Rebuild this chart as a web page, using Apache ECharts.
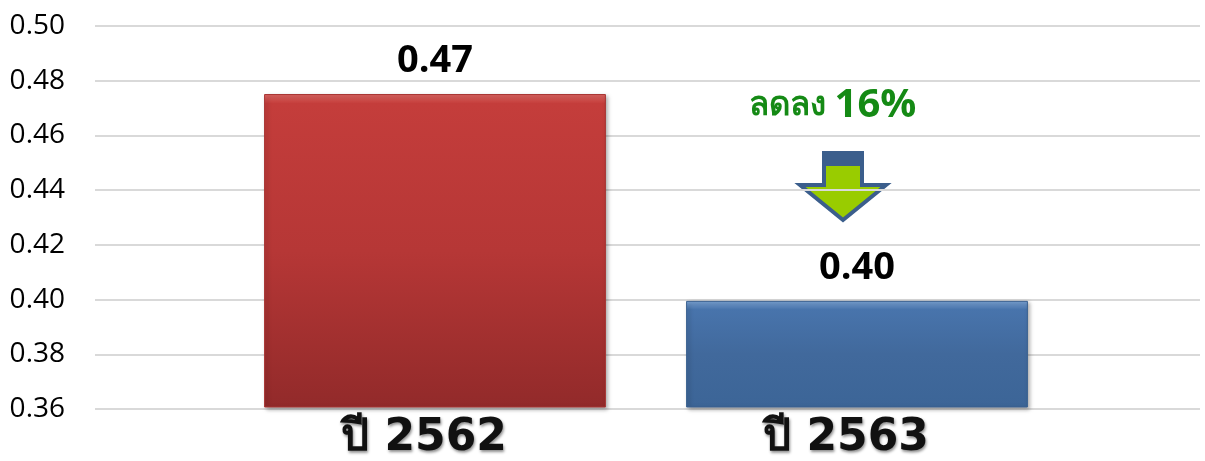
<!DOCTYPE html>
<html><head><meta charset="utf-8">
<script src="https://cdn.jsdelivr.net/npm/echarts@6/dist/echarts.min.js"></script>
<style>html,body{margin:0;padding:0;background:#fff}#c{width:1205px;height:461px}</style>
</head><body><div id="c"></div>
<script>
var categories = ['ปี 2562', 'ปี 2563'];
var values = [0.475, 0.399];
var valueLabels = ['0.47', '0.40'];
var yTicks = [0.36, 0.38, 0.40, 0.42, 0.44, 0.46, 0.48, 0.50];
var changeText = 'ลดลง';
var changePct = '16%';

var chart = echarts.init(document.getElementById('c'));
var barColors = [
  new echarts.graphic.LinearGradient(0,0,0,1,[{offset:0,color:'#e06864'},{offset:0.03,color:'#c43d3b'},{offset:0.5,color:'#b63736'},{offset:1,color:'#922a2a'}]),
  new echarts.graphic.LinearGradient(0,0,0,1,[{offset:0,color:'#7da6d8'},{offset:0.08,color:'#4874ac'},{offset:0.5,color:'#41699c'},{offset:1,color:'#3c6597'}])
];
chart.setOption({
  animation:false,
  grid:[{left:95,right:5,top:26,bottom:52,containLabel:false},
        {left:224,right:137,top:26,bottom:52,containLabel:false}],
  xAxis:[{type:'category',gridIndex:0,data:[''],show:false},
         {type:'category',gridIndex:1,data:categories,
          axisLine:{show:false},axisTick:{show:false},
          axisLabel:{margin:10,fontSize:44,fontWeight:'bold',color:'#111',padding:[0,22,0,0],
            fontFamily:'"DejaVu Sans","Liberation Sans",sans-serif',
            textShadowColor:'rgba(0,0,0,0.45)',textShadowBlur:3,textShadowOffsetX:1,textShadowOffsetY:2}}],
  yAxis:[{type:'value',gridIndex:0,min:0.36,max:0.50,interval:0.02,
          axisLine:{show:false},axisTick:{show:false},
          splitLine:{lineStyle:{color:'#d9d9d9',width:2}},
          axisLabel:{margin:30,fontSize:28,color:'#000',fontFamily:'"Open Sans","Noto Sans",sans-serif',
            formatter:function(v){return v.toFixed(2);}}},
         {type:'value',gridIndex:1,min:0.36,max:0.50,interval:0.02,show:false,splitLine:{show:false}}],
  series:[{type:'bar',xAxisIndex:1,yAxisIndex:1,barCategoryGap:'19%',
    data:values.map(function(v,i){return {value:v,itemStyle:{color:barColors[i],
      borderColor: i===0?'#a83432':'#3a6190',borderWidth:1,
      shadowColor:'rgba(0,0,0,0.35)',shadowBlur:4,shadowOffsetX:2,shadowOffsetY:2}};}),
    label:{show:true,position:'top',distance:14,fontSize:38,fontWeight:'bold',color:'#000',
      fontFamily:'"Open Sans","Noto Sans",sans-serif',
      formatter:function(p){return valueLabels[p.dataIndex];}}
  }],
  graphic:[
    {type:'text',left:749,top:86,style:{text:'{a|'+changeText+' }{b|'+changePct+'}',
      rich:{a:{fontSize:33,fontWeight:'bold',fill:'#158a15',fontFamily:'"Noto Sans","DejaVu Sans",sans-serif'},
            b:{fontSize:40,fontWeight:'bold',fill:'#158a15',fontFamily:'"Open Sans","Noto Sans",sans-serif'}}}},
    {type:'polygon',shape:{points:[[824,153],[862,153],[862,185],[886,185],[843,220],[800,185],[824,185]]},
      style:{fill:'#99cc00',stroke:'#3b5e8c',lineWidth:4,lineJoin:'miter'}},
    {type:'rect',shape:{x:822,y:152,width:42,height:14},style:{fill:'#3b5e8c'}}
  ]
});
</script></body></html>
